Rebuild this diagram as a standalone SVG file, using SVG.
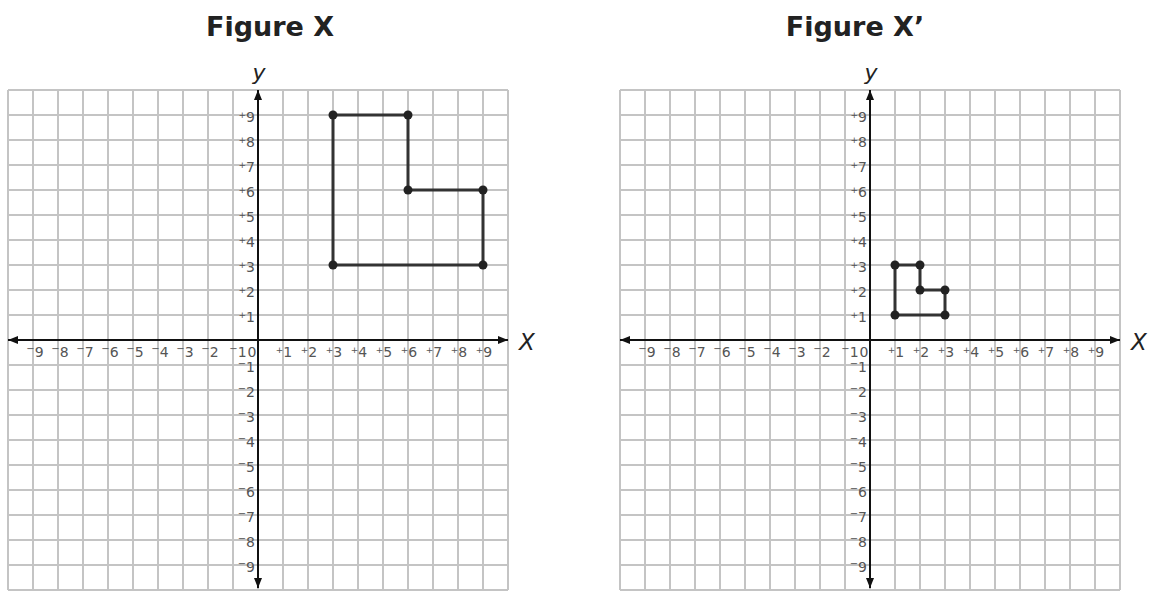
<svg xmlns="http://www.w3.org/2000/svg" xmlns:xlink="http://www.w3.org/1999/xlink" width="1151" height="591" viewBox="0 0 1151 591">
<style>
.bg{fill:#fff}
.grid{fill:none;stroke:#c4c4c4;stroke-width:2}
.axis{stroke:#111;stroke-width:2;fill:none}
.tick{font-family:"DejaVu Sans","Liberation Sans",sans-serif;font-size:14px;fill:#555}
.tx{text-anchor:middle}
.ty{text-anchor:end}
.p{font-size:9px}
.m{font-size:10px}
.ax{font-family:"DejaVu Sans","Liberation Sans",sans-serif;font-style:italic;fill:#222}
.title{font-family:"DejaVu Sans","Liberation Sans",sans-serif;font-weight:bold;font-size:27px;fill:#222;text-anchor:middle}
.shape{fill:none;stroke:#333;stroke-width:3;stroke-linejoin:miter}
.pt{fill:#222}
</style>
<defs>
<marker id="arr" markerUnits="userSpaceOnUse" markerWidth="11" markerHeight="9" refX="10" refY="4.5" orient="auto-start-reverse" viewBox="0 0 11 9">
<path d="M0,0.5 L10,4.5 L0,8.5 z" fill="#111"/>
</marker>
<g id="plane">
<path class="grid" d="M-250,-250v500m25-500v500m25-500v500m25-500v500m25-500v500m25-500v500m25-500v500m25-500v500m25-500v500m25-500v500m25-500v500m25-500v500m25-500v500m25-500v500m25-500v500m25-500v500m25-500v500m25-500v500m25-500v500m25-500v500m25-500v500"/>
<path class="grid" d="M-250,-250h500m-500,25h500m-500,25h500m-500,25h500m-500,25h500m-500,25h500m-500,25h500m-500,25h500m-500,25h500m-500,25h500m-500,25h500m-500,25h500m-500,25h500m-500,25h500m-500,25h500m-500,25h500m-500,25h500m-500,25h500m-500,25h500m-500,25h500m-500,25h500"/>
<line class="axis" x1="-250" y1="0" x2="250" y2="0" marker-start="url(#arr)" marker-end="url(#arr)"/>
<line class="axis" x1="0" y1="248" x2="0" y2="-250" marker-start="url(#arr)" marker-end="url(#arr)"/>
<g class="tick tx">
<text x="-223" y="17"><tspan class="m" dy="-5">−</tspan><tspan dy="5">9</tspan></text><text x="-198" y="17"><tspan class="m" dy="-5">−</tspan><tspan dy="5">8</tspan></text><text x="-173" y="17"><tspan class="m" dy="-5">−</tspan><tspan dy="5">7</tspan></text><text x="-148" y="17"><tspan class="m" dy="-5">−</tspan><tspan dy="5">6</tspan></text><text x="-123" y="17"><tspan class="m" dy="-5">−</tspan><tspan dy="5">5</tspan></text><text x="-98" y="17"><tspan class="m" dy="-5">−</tspan><tspan dy="5">4</tspan></text><text x="-73" y="17"><tspan class="m" dy="-5">−</tspan><tspan dy="5">3</tspan></text><text x="-48" y="17"><tspan class="m" dy="-5">−</tspan><tspan dy="5">2</tspan></text><text x="-20" y="17"><tspan class="m" dy="-5">−</tspan><tspan dy="5">1</tspan></text><text x="-6" y="17">0</text>
<text x="26" y="17"><tspan class="p" dy="-4">+</tspan><tspan dy="4">1</tspan></text><text x="51" y="17"><tspan class="p" dy="-4">+</tspan><tspan dy="4">2</tspan></text><text x="76" y="17"><tspan class="p" dy="-4">+</tspan><tspan dy="4">3</tspan></text><text x="101" y="17"><tspan class="p" dy="-4">+</tspan><tspan dy="4">4</tspan></text><text x="126" y="17"><tspan class="p" dy="-4">+</tspan><tspan dy="4">5</tspan></text><text x="151" y="17"><tspan class="p" dy="-4">+</tspan><tspan dy="4">6</tspan></text><text x="176" y="17"><tspan class="p" dy="-4">+</tspan><tspan dy="4">7</tspan></text><text x="201" y="17"><tspan class="p" dy="-4">+</tspan><tspan dy="4">8</tspan></text><text x="226" y="17"><tspan class="p" dy="-4">+</tspan><tspan dy="4">9</tspan></text>
</g>
<g class="tick ty">
<text x="-3" y="-218"><tspan class="p" dy="-4">+</tspan><tspan dy="4">9</tspan></text><text x="-3" y="-193"><tspan class="p" dy="-4">+</tspan><tspan dy="4">8</tspan></text><text x="-3" y="-168"><tspan class="p" dy="-4">+</tspan><tspan dy="4">7</tspan></text><text x="-3" y="-143"><tspan class="p" dy="-4">+</tspan><tspan dy="4">6</tspan></text><text x="-3" y="-118"><tspan class="p" dy="-4">+</tspan><tspan dy="4">5</tspan></text><text x="-3" y="-93"><tspan class="p" dy="-4">+</tspan><tspan dy="4">4</tspan></text><text x="-3" y="-68"><tspan class="p" dy="-4">+</tspan><tspan dy="4">3</tspan></text><text x="-3" y="-43"><tspan class="p" dy="-4">+</tspan><tspan dy="4">2</tspan></text><text x="-3" y="-18"><tspan class="p" dy="-4">+</tspan><tspan dy="4">1</tspan></text>
<text x="-3" y="32"><tspan class="m" dy="-5">−</tspan><tspan dy="5">1</tspan></text><text x="-3" y="57"><tspan class="m" dy="-5">−</tspan><tspan dy="5">2</tspan></text><text x="-3" y="82"><tspan class="m" dy="-5">−</tspan><tspan dy="5">3</tspan></text><text x="-3" y="107"><tspan class="m" dy="-5">−</tspan><tspan dy="5">4</tspan></text><text x="-3" y="132"><tspan class="m" dy="-5">−</tspan><tspan dy="5">5</tspan></text><text x="-3" y="157"><tspan class="m" dy="-5">−</tspan><tspan dy="5">6</tspan></text><text x="-3" y="182"><tspan class="m" dy="-5">−</tspan><tspan dy="5">7</tspan></text><text x="-3" y="207"><tspan class="m" dy="-5">−</tspan><tspan dy="5">8</tspan></text><text x="-3" y="232"><tspan class="m" dy="-5">−</tspan><tspan dy="5">9</tspan></text>
</g>
<text class="ax" x="1" y="-260" font-size="22" text-anchor="middle">y</text>
<text class="ax" x="261" y="10" font-size="23">X</text>
</g>
</defs>
<rect class="bg" x="0" y="0" width="1151" height="591"/>
<g id="figure-x">
<text class="title" x="270" y="36">Figure X</text>
<use xlink:href="#plane" href="#plane" transform="translate(258,340)"/>
</g>
<g id="figure-x-prime">
<text class="title" x="855" y="36">Figure X’</text>
<use xlink:href="#plane" href="#plane" transform="translate(870,340)"/>
</g>
<g id="shape-x">
<path class="shape" d="M333,115 H408 V190 H483 V265 H333 Z"/>
<circle class="pt" cx="333" cy="115" r="4.5"/><circle class="pt" cx="408" cy="115" r="4.5"/><circle class="pt" cx="408" cy="190" r="4.5"/><circle class="pt" cx="483" cy="190" r="4.5"/><circle class="pt" cx="483" cy="265" r="4.5"/><circle class="pt" cx="333" cy="265" r="4.5"/>
</g>
<g id="shape-x-prime">
<path class="shape" d="M895,265 H920 V290 H945 V315 H895 Z"/>
<circle class="pt" cx="895" cy="265" r="4.5"/><circle class="pt" cx="920" cy="265" r="4.5"/><circle class="pt" cx="920" cy="290" r="4.5"/><circle class="pt" cx="945" cy="290" r="4.5"/><circle class="pt" cx="945" cy="315" r="4.5"/><circle class="pt" cx="895" cy="315" r="4.5"/>
</g>
</svg>
